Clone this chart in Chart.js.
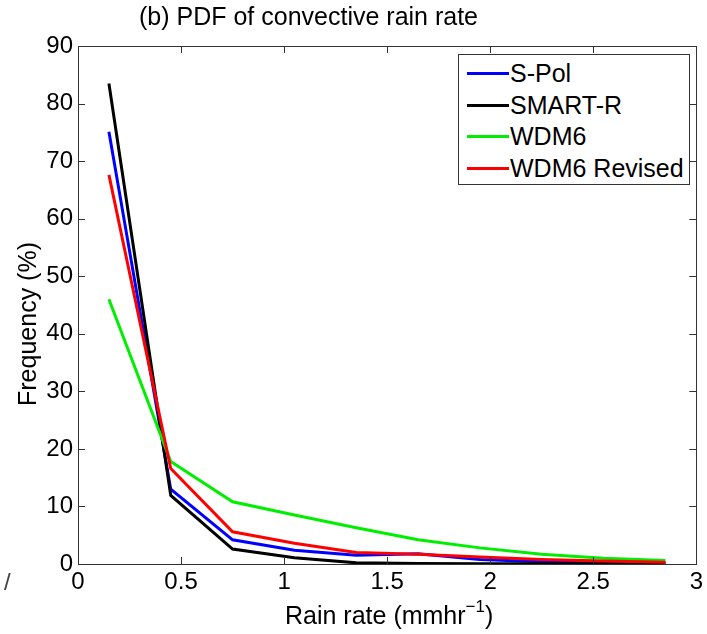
<!DOCTYPE html>
<html>
<head>
    <meta charset="utf-8" />
    <title>PDF of convective rain rate</title>
    <script src="https://cdn.jsdelivr.net/npm/chart.js@4/dist/chart.umd.min.js"></script>
    <style>
        body {
            margin: 0;
            background: #ffffff;
            font-family: "Liberation Sans", Arial, sans-serif;
            color: #000;
        }

        .wrap {
            position: relative;
            width: 707px;
            height: 634px;
        }

        .title {
            position: absolute;
            left: 139px;
            top: 2px;
            font-size: 25px;
            white-space: nowrap;
        }

        .xtitle {
            position: absolute;
            left: 285px;
            top: 600px;
            font-size: 25px;
            white-space: nowrap;
        }

        .xtitle sup {
            font-size: 17px;
            position: relative;
            top: -3px;
        }

        .ytitle {
            position: absolute;
            left: 27px;
            top: 324px;
            font-size: 25px;
            white-space: nowrap;
            transform: translate(-50%, -50%) rotate(-90deg);
        }

        .stray {
            position: absolute;
            left: 4px;
            top: 568px;
            font-size: 24px;
            color: #444;
        }

        .legend {
            position: absolute;
            left: 458px;
            top: 54px;
            width: 232px;
            height: 131px;
            border: 1px solid #333;
            background: #fff;
            box-sizing: border-box;
            padding-top: 3px;
        }

        .legend-row {
            display: flex;
            align-items: center;
            height: 31.5px;
            font-size: 25px;
            white-space: nowrap;
        }

        .legend-line {
            width: 42px;
            height: 3px;
            margin-left: 8px;
            margin-right: 1px;
        }
    </style>
</head>
<body>
<div class="wrap">
    <canvas id="pdfChart" width="707" height="634"></canvas>
    <div class="title">(b) PDF of convective rain rate</div>
    <div class="xtitle">Rain rate (mmhr<sup>−1</sup>)</div>
    <div class="ytitle">Frequency (%)</div>
    <div class="stray">/</div>
    <div class="legend" id="legend"></div>
</div>

<script>
    // bin centres (mm/hr)
    const rainRate = [0.15, 0.45, 0.75, 1.05, 1.35, 1.65, 1.95, 2.25, 2.55, 2.85];

    // frequency (%) per bin
    const sPol = [75.1, 13.0, 4.2, 2.4, 1.5, 1.8, 0.8, 0.4, 0.3, 0.2];
    const smartR = [83.5, 11.9, 2.6, 1.1, 0.2, 0.1, 0.05, 0.05, 0.05, 0.05];
    const wdm6 = [46.0, 17.8, 10.8, 8.5, 6.3, 4.2, 2.8, 1.7, 1.0, 0.6];
    const wdm6Revised = [67.6, 16.6, 5.6, 3.6, 2.0, 1.7, 1.2, 0.8, 0.5, 0.3];

    const xTicks = [0, 0.5, 1, 1.5, 2, 2.5, 3];
    const yTicks = [0, 10, 20, 30, 40, 50, 60, 70, 80, 90];

    const seriesNames = ['S-Pol', 'SMART-R', 'WDM6', 'WDM6 Revised'];
    const seriesColors = ['#0000ff', '#000000', '#00ee00', '#ff0000'];
    const seriesValues = [sPol, smartR, wdm6, wdm6Revised];

    function toPoints(values) {
        return values.map((v, i) => ({ x: rainRate[i], y: v }));
    }

    // MATLAB-style box with inward ticks on all four sides
    const boxTicks = {
        id: 'boxTicks',
        afterDatasetsDraw(chart) {
            const ctx = chart.ctx;
            const a = chart.chartArea;
            const xs = chart.scales.x;
            const ys = chart.scales.y;
            const len = 7;
            ctx.save();
            ctx.strokeStyle = '#333';
            ctx.lineWidth = 1;
            ctx.beginPath();
            xTicks.forEach(t => {
                const px = Math.round(xs.getPixelForValue(t)) + 0.5;
                ctx.moveTo(px, a.bottom);
                ctx.lineTo(px, a.bottom - len);
                ctx.moveTo(px, a.top);
                ctx.lineTo(px, a.top + len);
            });
            yTicks.forEach(t => {
                const py = Math.round(ys.getPixelForValue(t)) + 0.5;
                ctx.moveTo(a.left, py);
                ctx.lineTo(a.left + len, py);
                ctx.moveTo(a.right, py);
                ctx.lineTo(a.right - len, py);
            });
            ctx.stroke();
            ctx.strokeRect(Math.round(a.left) + 0.5, Math.round(a.top) + 0.5,
                Math.round(a.right - a.left), Math.round(a.bottom - a.top));
            ctx.restore();
        }
    };

    const ctx = document.getElementById('pdfChart').getContext('2d');
    const chart = new Chart(ctx, {
        type: 'line',
        data: {
            datasets: seriesNames.map((name, i) => ({
                label: name,
                data: toPoints(seriesValues[i]),
                borderColor: seriesColors[i],
                backgroundColor: seriesColors[i],
                borderWidth: 3,
                pointRadius: 0,
                tension: 0,
                fill: false,
                order: seriesNames.length - i   // later series on top, like MATLAB
            }))
        },
        options: {
            responsive: false,
            animation: false,
            layout: {
                padding: { top: 46, right: 9, left: 0, bottom: 0 }
            },
            plugins: {
                legend: { display: false },
                title: { display: false },
                tooltip: { enabled: false }
            },
            scales: {
                x: {
                    type: 'linear',
                    min: 0,
                    max: 3,
                    afterBuildTicks: axis => {
                        axis.ticks = xTicks.map(v => ({ value: v }));
                    },
                    ticks: {
                        callback: v => String(v),
                        color: '#000',
                        padding: 4,
                        maxRotation: 0,
                        font: { family: '"Liberation Sans", Arial, sans-serif', size: 24 }
                    },
                    grid: { display: false, drawTicks: false },
                    border: { display: false },
                    afterFit: scale => { scale.height = 70; }
                },
                y: {
                    min: 0,
                    max: 90,
                    afterBuildTicks: axis => {
                        axis.ticks = yTicks.map(v => ({ value: v }));
                    },
                    ticks: {
                        callback: v => String(v),
                        color: '#000',
                        padding: 5,
                        font: { family: '"Liberation Sans", Arial, sans-serif', size: 24 }
                    },
                    grid: { display: false, drawTicks: false },
                    border: { display: false },
                    afterFit: scale => { scale.width = 78; }
                }
            }
        },
        plugins: [boxTicks]
    });

    // legend inside the axes, built from the datasets
    const legendBox = document.getElementById('legend');
    seriesNames.forEach((name, i) => {
        const row = document.createElement('div');
        row.className = 'legend-row';
        const line = document.createElement('span');
        line.className = 'legend-line';
        line.style.background = seriesColors[i];
        const label = document.createElement('span');
        label.textContent = name;
        row.appendChild(line);
        row.appendChild(label);
        legendBox.appendChild(row);
    });
</script>
</body>
</html>
